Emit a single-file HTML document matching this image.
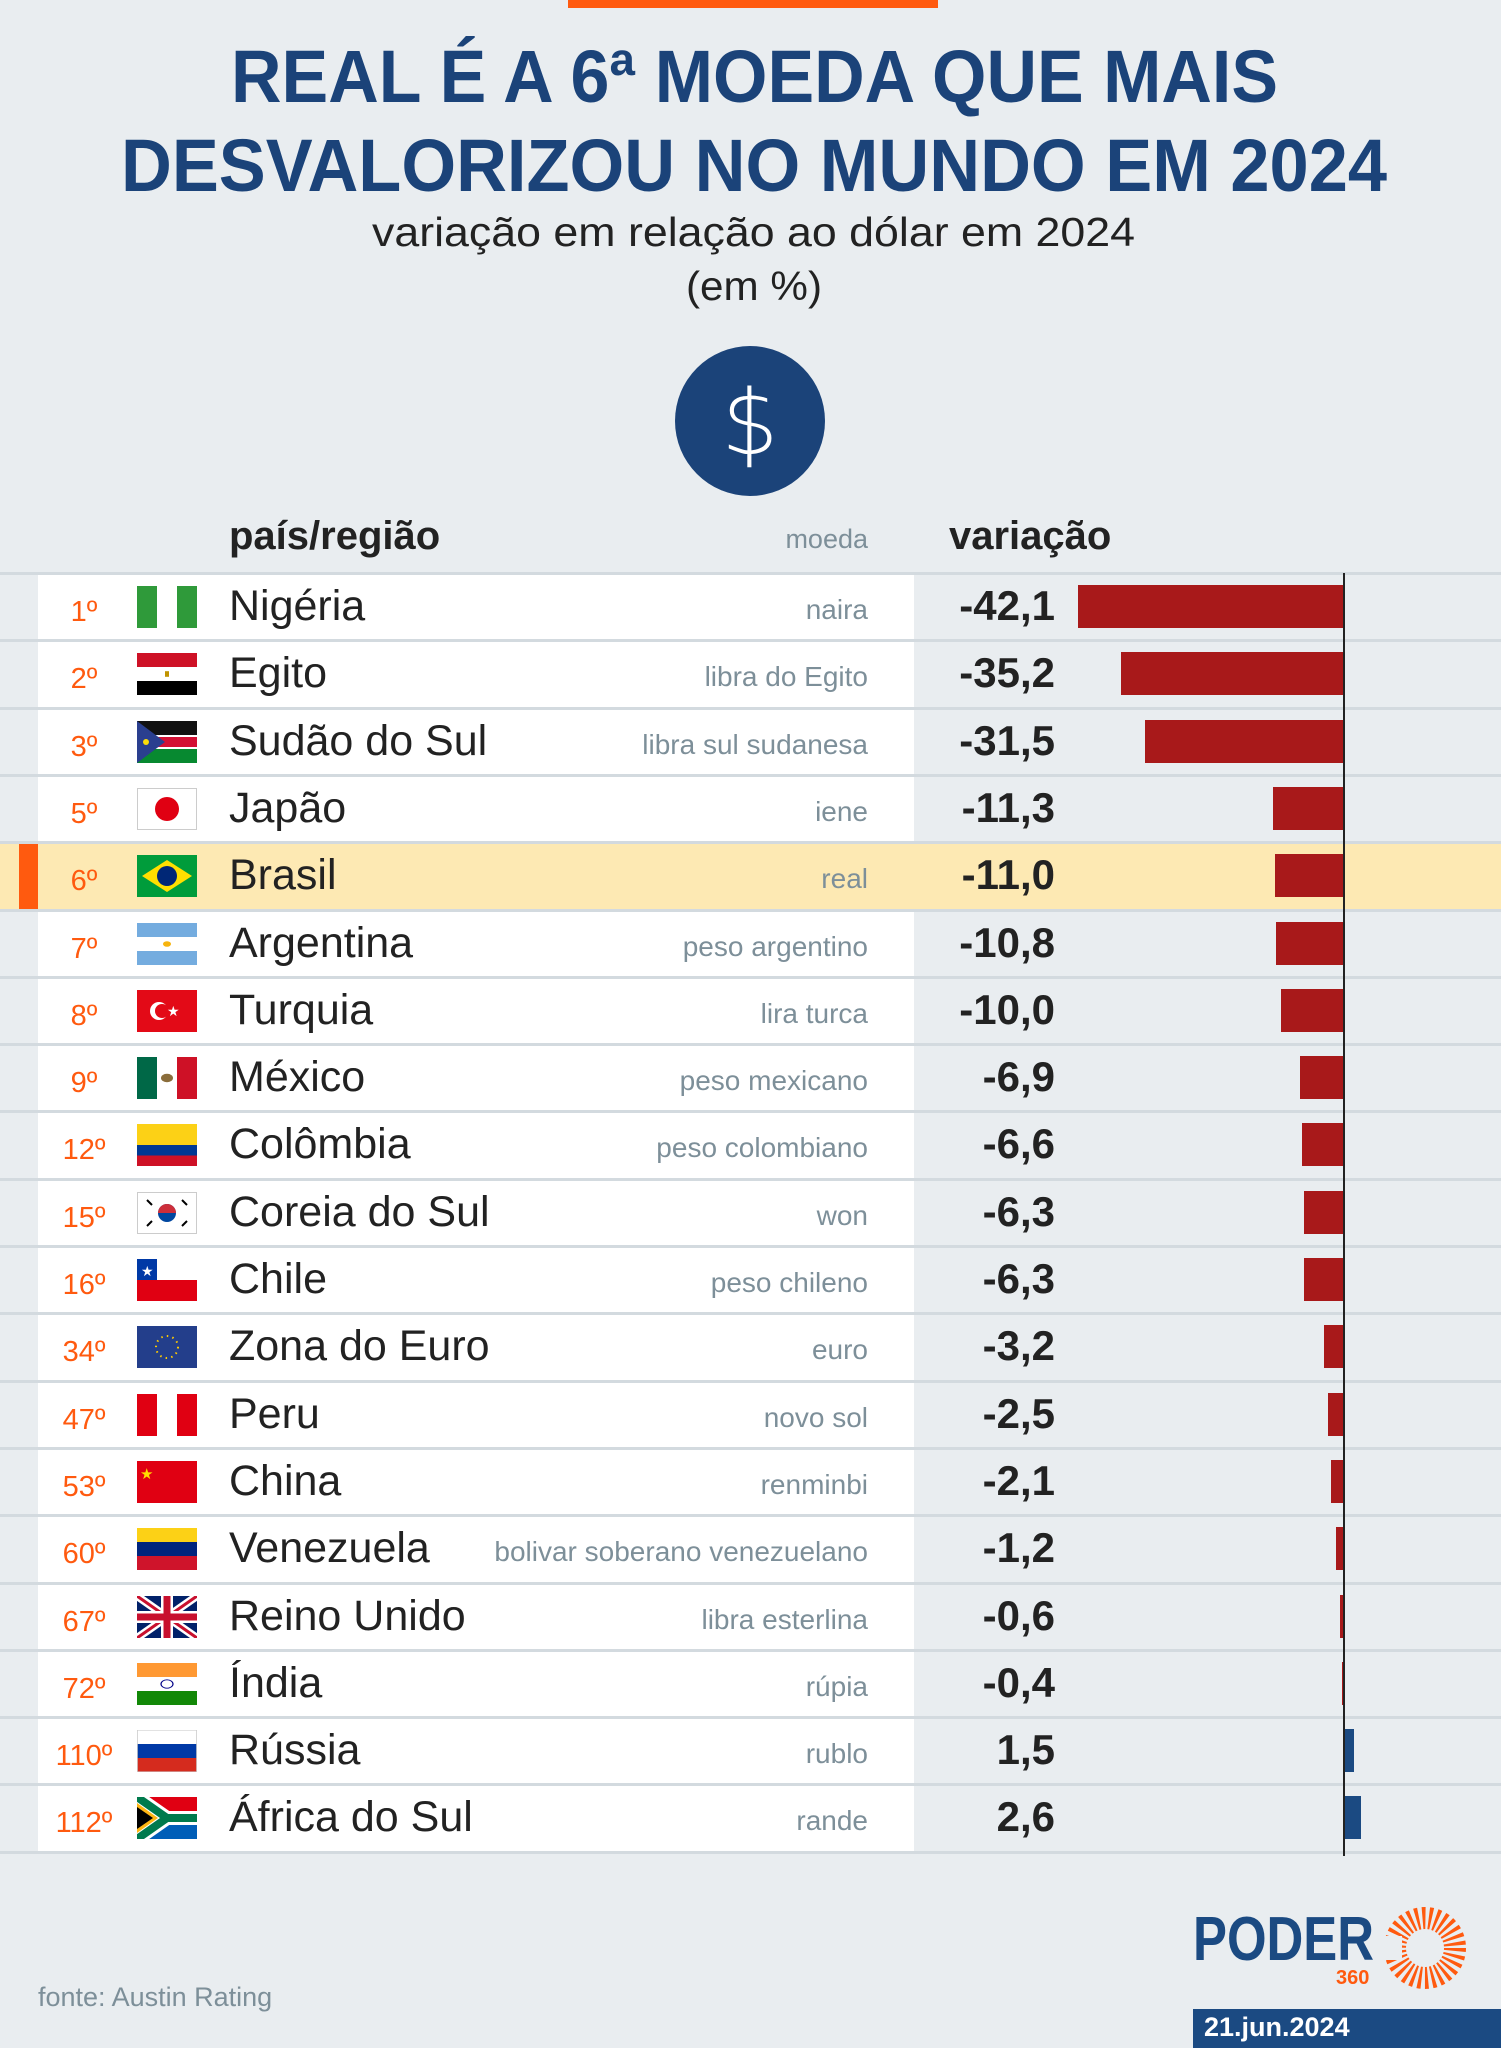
<!DOCTYPE html>
<html><head><meta charset="utf-8"><style>
*{margin:0;padding:0;box-sizing:border-box}
body{width:1501px;height:2048px;background:#e9edf0;position:relative;overflow:hidden;font-family:"Liberation Sans",sans-serif}
.a{position:absolute}
.r{position:absolute;left:0;width:1501px;height:68px;border-top:3px solid #d3dadf}
.w{position:absolute;left:38px;top:0;width:876px;height:65px;background:#fff}
.k{position:absolute;left:44px;width:80px;text-align:center;top:5px;line-height:64px;font-size:29px;color:#ff5a0f}
.f{position:absolute;left:137px;top:11px;width:60px;height:42px}
.n{position:absolute;left:229px;top:0;line-height:62px;font-size:43px;color:#222}
.m{position:absolute;right:633px;top:0;line-height:70px;font-size:28px;color:#7d8f99}
.v{position:absolute;right:446px;top:0;line-height:62px;font-size:42px;font-weight:bold;color:#222}
.b{position:absolute;top:10px;height:43px;background:#a8191a}
.p{background:#1b4a82}
</style></head><body>
<div class="a" style="left:568px;top:0;width:370px;height:8px;background:#ff5a0f"></div>
<svg class="a" style="left:0;top:0" width="1501" height="320">
<text x="231" y="102" textLength="1047" lengthAdjust="spacingAndGlyphs" font-family="Liberation Sans" font-weight="bold" font-size="74" fill="#1b4379">REAL É A 6ª MOEDA QUE MAIS</text>
<text x="121" y="191" textLength="1266" lengthAdjust="spacingAndGlyphs" font-family="Liberation Sans" font-weight="bold" font-size="74" fill="#1b4379">DESVALORIZOU NO MUNDO EM 2024</text>
<text x="372" y="246" textLength="763" lengthAdjust="spacingAndGlyphs" font-family="Liberation Sans" font-size="41" fill="#222">variação em relação ao dólar em 2024</text>
<text x="686" y="300" textLength="136" lengthAdjust="spacingAndGlyphs" font-family="Liberation Sans" font-size="41" fill="#222">(em %)</text>
</svg>
<svg class="a" style="left:675px;top:346px" width="150" height="150"><circle cx="75" cy="75" r="75" fill="#1b4379"/><text x="75" y="108" text-anchor="middle" font-family="DejaVu Sans" font-weight="200" font-size="90" fill="#fff">$</text></svg>
<div class="a" style="left:229px;top:514px;font-size:40px;font-weight:bold;color:#222">país/região</div>
<div class="a" style="right:633px;top:524px;font-size:27px;color:#7d8f99">moeda</div>
<div class="a" style="left:949px;top:514px;font-size:40px;font-weight:bold;color:#222">variação</div>

<div class="r" style="top:572px"><div class="w"></div><span class="k">1º</span><svg class="f" viewBox="0 0 3 2" preserveAspectRatio="none"><rect width="3" height="2" fill="#fff"/><rect width="1" height="2" fill="#2f9a3a"/><rect x="2" width="1" height="2" fill="#2f9a3a"/></svg><span class="n">Nigéria</span><span class="m">naira</span><span class="v">-42,1</span><div class="b" style="left:1078px;width:266px"></div></div>
<div class="r" style="top:639.3px"><div class="w"></div><span class="k">2º</span><svg class="f" viewBox="0 0 3 3" preserveAspectRatio="none"><rect width="3" height="1" fill="#ce1126"/><rect y="1" width="3" height="1" fill="#fff"/><rect y="2" width="3" height="1" fill="#000"/><rect x="1.4" y="1.3" width=".2" height=".4" fill="#c09300"/></svg><span class="n">Egito</span><span class="m">libra do Egito</span><span class="v">-35,2</span><div class="b" style="left:1121px;width:223px"></div></div>
<div class="r" style="top:706.6px"><div class="w"></div><span class="k">3º</span><svg class="f" viewBox="0 0 60 42" preserveAspectRatio="none"><rect width="60" height="14" fill="#111"/><rect y="14" width="60" height="14" fill="#fff"/><rect y="16" width="60" height="10" fill="#d21034"/><rect y="28" width="60" height="14" fill="#078930"/><polygon points="0,0 28,21 0,42" fill="#2a3f8f"/><circle cx="9" cy="21" r="3" fill="#fcdd09"/></svg><span class="n">Sudão do Sul</span><span class="m">libra sul sudanesa</span><span class="v">-31,5</span><div class="b" style="left:1145px;width:199px"></div></div>
<div class="r" style="top:773.9px"><div class="w"></div><span class="k">5º</span><svg class="f" viewBox="0 0 60 42"><rect x=".5" y=".5" width="59" height="41" fill="#fff" stroke="#ccc"/><circle cx="30" cy="21" r="12" fill="#e00012"/></svg><span class="n">Japão</span><span class="m">iene</span><span class="v">-11,3</span><div class="b" style="left:1273px;width:71px"></div></div>
<div class="r" style="top:841.2px;background:#fde9b3"><div class="a" style="left:19px;top:0;width:19px;height:65px;background:#ff5a0f"></div><span class="k">6º</span><svg class="f" viewBox="0 0 60 42"><rect width="60" height="42" fill="#009c3b"/><polygon points="30,5 55,21 30,37 5,21" fill="#ffdf00"/><circle cx="30" cy="21" r="10" fill="#002776"/></svg><span class="n">Brasil</span><span class="m">real</span><span class="v">-11,0</span><div class="b" style="left:1274.5px;width:69.5px"></div></div>
<div class="r" style="top:908.5px"><div class="w"></div><span class="k">7º</span><svg class="f" viewBox="0 0 3 3" preserveAspectRatio="none"><rect width="3" height="3" fill="#fff"/><rect width="3" height="1" fill="#74acdf"/><rect y="2" width="3" height="1" fill="#74acdf"/><circle cx="1.5" cy="1.5" r=".2" fill="#f6b40e"/></svg><span class="n">Argentina</span><span class="m">peso argentino</span><span class="v">-10,8</span><div class="b" style="left:1276px;width:68px"></div></div>
<div class="r" style="top:975.8px"><div class="w"></div><span class="k">8º</span><svg class="f" viewBox="0 0 60 42"><rect width="60" height="42" fill="#e30a17"/><circle cx="22" cy="21" r="9" fill="#fff"/><circle cx="25" cy="21" r="7" fill="#e30a17"/><text x="30" y="26" font-size="14" fill="#fff">★</text></svg><span class="n">Turquia</span><span class="m">lira turca</span><span class="v">-10,0</span><div class="b" style="left:1281px;width:63px"></div></div>
<div class="r" style="top:1043.1px"><div class="w"></div><span class="k">9º</span><svg class="f" viewBox="0 0 3 3" preserveAspectRatio="none"><rect width="3" height="3" fill="#fff"/><rect width="1" height="3" fill="#006847"/><rect x="2" width="1" height="3" fill="#ce1126"/><circle cx="1.5" cy="1.5" r=".3" fill="#8a6d3b"/></svg><span class="n">México</span><span class="m">peso mexicano</span><span class="v">-6,9</span><div class="b" style="left:1300px;width:44px"></div></div>
<div class="r" style="top:1110.4px"><div class="w"></div><span class="k">12º</span><svg class="f" viewBox="0 0 4 4" preserveAspectRatio="none"><rect width="4" height="2" fill="#fcd116"/><rect y="2" width="4" height="1" fill="#003893"/><rect y="3" width="4" height="1" fill="#ce1126"/></svg><span class="n">Colômbia</span><span class="m">peso colombiano</span><span class="v">-6,6</span><div class="b" style="left:1302px;width:42px"></div></div>
<div class="r" style="top:1177.7px"><div class="w"></div><span class="k">15º</span><svg class="f" viewBox="0 0 60 42"><rect x=".5" y=".5" width="59" height="41" fill="#fff" stroke="#ccc"/><circle cx="30" cy="21" r="9" fill="#0047a0"/><path d="M21 21a9 9 0 0 1 18 0z" fill="#cd2e3a"/><g stroke="#000" stroke-width="2"><path d="M10 8l5 5M45 8l5 5M10 34l5-5M45 34l5-5"/></g></svg><span class="n">Coreia do Sul</span><span class="m">won</span><span class="v">-6,3</span><div class="b" style="left:1304px;width:40px"></div></div>
<div class="r" style="top:1245px"><div class="w"></div><span class="k">16º</span><svg class="f" viewBox="0 0 60 42"><rect width="60" height="21" fill="#fff"/><rect y="21" width="60" height="21" fill="#e00012"/><rect width="20" height="21" fill="#0039a6"/><text x="4" y="17" font-size="14" fill="#fff">★</text></svg><span class="n">Chile</span><span class="m">peso chileno</span><span class="v">-6,3</span><div class="b" style="left:1304px;width:40px"></div></div>
<div class="r" style="top:1312.3px"><div class="w"></div><span class="k">34º</span><svg class="f" viewBox="0 0 60 42"><rect width="60" height="42" fill="#233e8b"/><circle cx="30" cy="21" r="11" fill="none" stroke="#fc0" stroke-width="2" stroke-dasharray="1.5 4.2"/></svg><span class="n">Zona do Euro</span><span class="m">euro</span><span class="v">-3,2</span><div class="b" style="left:1324px;width:20px"></div></div>
<div class="r" style="top:1379.6px"><div class="w"></div><span class="k">47º</span><svg class="f" viewBox="0 0 3 2" preserveAspectRatio="none"><rect width="3" height="2" fill="#fff"/><rect width="1" height="2" fill="#e00012"/><rect x="2" width="1" height="2" fill="#e00012"/></svg><span class="n">Peru</span><span class="m">novo sol</span><span class="v">-2,5</span><div class="b" style="left:1328px;width:16px"></div></div>
<div class="r" style="top:1446.9px"><div class="w"></div><span class="k">53º</span><svg class="f" viewBox="0 0 60 42"><rect width="60" height="42" fill="#e00012"/><text x="3" y="18" font-size="15" fill="#ffde00">★</text></svg><span class="n">China</span><span class="m">renminbi</span><span class="v">-2,1</span><div class="b" style="left:1331px;width:13px"></div></div>
<div class="r" style="top:1514.2px"><div class="w"></div><span class="k">60º</span><svg class="f" viewBox="0 0 3 3" preserveAspectRatio="none"><rect width="3" height="1" fill="#fcd116"/><rect y="1" width="3" height="1" fill="#00247d"/><rect y="2" width="3" height="1" fill="#cf142b"/></svg><span class="n">Venezuela</span><span class="m">bolivar soberano venezuelano</span><span class="v">-1,2</span><div class="b" style="left:1336px;width:8px"></div></div>
<div class="r" style="top:1581.5px"><div class="w"></div><span class="k">67º</span><svg class="f" viewBox="0 0 60 42"><rect width="60" height="42" fill="#012169"/><path d="M0 0L60 42M60 0L0 42" stroke="#fff" stroke-width="8"/><path d="M0 0L60 42M60 0L0 42" stroke="#c8102e" stroke-width="3"/><path d="M30 0v42M0 21h60" stroke="#fff" stroke-width="12"/><path d="M30 0v42M0 21h60" stroke="#c8102e" stroke-width="7"/></svg><span class="n">Reino Unido</span><span class="m">libra esterlina</span><span class="v">-0,6</span><div class="b" style="left:1340px;width:4px"></div></div>
<div class="r" style="top:1648.8px"><div class="w"></div><span class="k">72º</span><svg class="f" viewBox="0 0 3 3" preserveAspectRatio="none"><rect width="3" height="1" fill="#f93"/><rect y="1" width="3" height="1" fill="#fff"/><rect y="2" width="3" height="1" fill="#128807"/><circle cx="1.5" cy="1.5" r=".3" fill="none" stroke="#008" stroke-width=".06"/></svg><span class="n">Índia</span><span class="m">rúpia</span><span class="v">-0,4</span><div class="b" style="left:1341.5px;width:2.5px"></div></div>
<div class="r" style="top:1716.1px"><div class="w"></div><span class="k">110º</span><svg class="f" viewBox="0 0 3 3" preserveAspectRatio="none"><rect width="3" height="1" fill="#fff"/><rect y="1" width="3" height="1" fill="#0039a6"/><rect y="2" width="3" height="1" fill="#d52b1e"/><rect x=".02" y=".02" width="2.96" height="2.96" fill="none" stroke="#ccc" stroke-width=".04"/></svg><span class="n">Rússia</span><span class="m">rublo</span><span class="v">1,5</span><div class="b p" style="left:1345px;width:9px"></div></div>
<div class="r" style="top:1783.4px"><div class="w"></div><span class="k">112º</span><svg class="f" viewBox="0 0 60 42"><rect width="60" height="21" fill="#e00012"/><rect y="21" width="60" height="21" fill="#005eb8"/><path d="M0 0L30 21L0 42" stroke="#fff" stroke-width="14" fill="none"/><path d="M30 21H60" stroke="#fff" stroke-width="14"/><path d="M0 0L30 21L0 42" stroke="#007a4d" stroke-width="8" fill="none"/><path d="M30 21H60" stroke="#007a4d" stroke-width="8"/><polygon points="0,6 21,21 0,36" fill="#ffb612"/><polygon points="0,10 16,21 0,32" fill="#000"/></svg><span class="n">África do Sul</span><span class="m">rande</span><span class="v">2,6</span><div class="b p" style="left:1345px;width:16px"></div></div>
<div class="a" style="left:0;top:1850.7px;width:1501px;height:3px;background:#d3dadf"></div>
<div class="a" style="left:1343px;top:573px;width:2px;height:1283px;background:#222"></div>

<div class="a" style="left:38px;top:1982px;font-size:27px;color:#7d8f99">fonte: Austin Rating</div>
<svg class="a" style="left:1190px;top:1900px" width="311" height="108">
<text x="3" y="60" textLength="181" lengthAdjust="spacingAndGlyphs" font-family="Liberation Sans" font-weight="bold" font-size="62" fill="#1b4a82">PODER</text>
<text x="146" y="84" font-family="Liberation Sans" font-weight="bold" font-size="20" fill="#ff5a0f">360</text>
<circle cx="235" cy="48" r="30" fill="none" stroke="#ff5a0f" stroke-width="22" stroke-dasharray="3 3.3"/>
<rect x="190" y="36" width="22" height="24" fill="#e9edf0"/>
</svg>
<div class="a" style="left:1193px;top:2009px;width:308px;height:39px;background:#1b4a82"></div>
<div class="a" style="left:1204px;top:2012px;font-size:27px;font-weight:bold;color:#fff">21.jun.2024</div>
</body></html>
